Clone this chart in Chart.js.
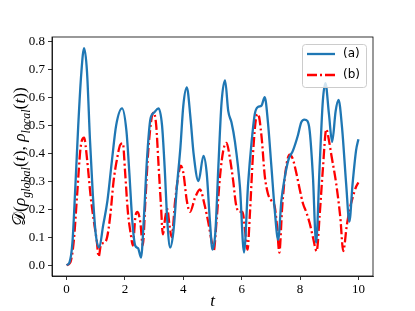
<!DOCTYPE html>
<html>
<head>
<meta charset="utf-8">
<script src="https://cdn.jsdelivr.net/npm/chart.js@4"></script>
<style>
  html, body { margin: 0; padding: 0; background: #fff; }
  #wrap { width: 415px; height: 311px; }
</style>
</head>
<body>
<div id="wrap"><canvas id="chart" width="415" height="311"></canvas></div>
<script>
// Series (a): time points and distance values
const tA = [0, 0.1, 0.2, 0.3, 0.4, 0.5, 0.6, 0.7, 0.8, 0.9, 1.0, 1.12, 1.25, 1.4, 1.55, 1.7, 1.9,
    2.05, 2.15, 2.25, 2.35, 2.45, 2.55, 2.65, 2.75, 2.87, 3.0, 3.15, 3.27, 3.36, 3.45, 3.55, 3.66,
    3.78, 3.9, 4.0, 4.12, 4.25, 4.35, 4.52, 4.69, 4.8, 4.91, 5.0, 5.1, 5.2, 5.31, 5.43, 5.54, 5.65,
    5.77, 5.94, 6.08, 6.22, 6.34, 6.45, 6.56, 6.68, 6.79, 6.9, 7.02, 7.13, 7.25, 7.36, 7.47, 7.6,
    7.76, 7.93, 8.04, 8.15, 8.25, 8.33, 8.44, 8.55, 8.67, 8.78, 8.87, 8.99, 9.1, 9.22, 9.32, 9.44,
    9.58, 9.69, 9.8, 9.92, 10.0];
const valuesA = [0, 0.01, 0.08, 0.28, 0.5, 0.68, 0.775, 0.69, 0.45, 0.25, 0.11, 0.063, 0.14, 0.23,
    0.37, 0.5, 0.56, 0.48, 0.33, 0.16, 0.07, 0.06, 0.027, 0.17, 0.37, 0.52, 0.545, 0.56, 0.5, 0.35,
    0.16, 0.063, 0.12, 0.28, 0.42, 0.57, 0.635, 0.52, 0.4, 0.3, 0.39, 0.33, 0.16, 0.055, 0.12, 0.35,
    0.58, 0.66, 0.55, 0.51, 0.44, 0.28, 0.045, 0.29, 0.44, 0.54, 0.565, 0.57, 0.6, 0.51, 0.35, 0.2,
    0.09, 0.23, 0.31, 0.375, 0.41, 0.465, 0.51, 0.52, 0.515, 0.48, 0.32, 0.08, 0.35, 0.585, 0.65,
    0.54, 0.44, 0.55, 0.59, 0.49, 0.29, 0.155, 0.29, 0.41, 0.45];

// Series (b)
const tB = [0, 0.13, 0.25, 0.36, 0.48, 0.6, 0.7, 0.82, 0.93, 1.03, 1.1, 1.18, 1.3, 1.39, 1.5, 1.61,
    1.73, 1.84, 1.93, 2.0, 2.1, 2.2, 2.27, 2.36, 2.43, 2.53, 2.61, 2.7, 2.8, 2.92, 2.98, 3.07, 3.15,
    3.23, 3.3, 3.38, 3.45, 3.53, 3.6, 3.72, 3.83, 3.91, 4.0, 4.12, 4.23, 4.4, 4.57, 4.74, 4.86, 4.97,
    5.04, 5.14, 5.26, 5.37, 5.48, 5.6, 5.71, 5.8, 5.91, 6.03, 6.12, 6.2, 6.28, 6.39, 6.5, 6.56, 6.68,
    6.79, 6.9, 7.02, 7.13, 7.21, 7.29, 7.39, 7.51, 7.64, 7.75, 7.87, 7.99, 8.1, 8.21, 8.33, 8.44,
    8.57, 8.67, 8.78, 8.9, 9.0, 9.07, 9.24, 9.38, 9.48, 9.6, 9.7, 9.8, 9.92, 10.0];
const valuesB = [0, 0.01, 0.09, 0.25, 0.42, 0.455, 0.38, 0.25, 0.16, 0.09, 0.03, 0.075, 0.08, 0.1,
    0.18, 0.3, 0.38, 0.43, 0.435, 0.34, 0.19, 0.11, 0.07, 0.175, 0.19, 0.15, 0.07, 0.23, 0.41, 0.53,
    0.545, 0.5, 0.36, 0.22, 0.11, 0.17, 0.2, 0.14, 0.1, 0.23, 0.32, 0.355, 0.33, 0.23, 0.19, 0.24,
    0.27, 0.21, 0.15, 0.085, 0.05, 0.16, 0.32, 0.41, 0.437, 0.38, 0.3, 0.22, 0.19, 0.19, 0.12, 0.055,
    0.18, 0.4, 0.53, 0.54, 0.46, 0.32, 0.255, 0.23, 0.21, 0.14, 0.045, 0.21, 0.34, 0.395, 0.38, 0.33,
    0.27, 0.22, 0.19, 0.15, 0.1, 0.05, 0.175, 0.34, 0.485, 0.44, 0.395, 0.29, 0.17, 0.05, 0.14, 0.2,
    0.24, 0.28, 0.295];

const seriesLabels = ['(a)', '(b)'];
const xTicks = [0, 2, 4, 6, 8, 10];
const yTicks = [0.0, 0.1, 0.2, 0.3, 0.4, 0.5, 0.6, 0.7, 0.8];

const serif = '"Liberation Serif", "DejaVu Serif", serif';

// frame, legend and axis titles drawn by hand
const extras = {
    id: 'extras',
    afterDraw(chart) {
        const ctx = chart.ctx;
        const area = chart.chartArea;
        ctx.save();
        ctx.strokeStyle = '#000';
        ctx.lineWidth = 0.8;
        ctx.strokeRect(area.left, area.top, area.right - area.left, area.bottom - area.top);

        // legend box
        const lx = 302, ly = 44, lw = 64, lh = 43;
        ctx.fillStyle = 'rgba(255,255,255,0.8)';
        ctx.strokeStyle = '#cccccc';
        ctx.lineWidth = 1;
        ctx.beginPath();
        ctx.roundRect(lx + 0.5, ly + 0.5, lw, lh, 3);
        ctx.fill();
        ctx.stroke();
        chart.data.datasets.forEach((ds, i) => {
            const yy = ly + 10 + i * 21;
            ctx.strokeStyle = ds.borderColor;
            ctx.lineWidth = ds.borderWidth;
            ctx.setLineDash(ds.borderDash || []);
            ctx.beginPath();
            ctx.moveTo(lx + 5, yy);
            ctx.lineTo(lx + 33, yy);
            ctx.stroke();
            ctx.setLineDash([]);
            ctx.fillStyle = '#000';
            ctx.font = '12px "DejaVu Sans", sans-serif';
            ctx.textBaseline = 'middle';
            ctx.textAlign = 'left';
            ctx.fillText(ds.label, lx + 41, yy);
        });

        // x title
        ctx.fillStyle = '#000';
        ctx.font = 'italic 17px ' + serif;
        ctx.textAlign = 'center';
        ctx.textBaseline = 'alphabetic';
        ctx.fillText('t', (area.left + area.right) / 2, 306);

        // y title with subscripts
        const big = 17.5, small = 12;
        const parts = [
            ['\u{1D49F}(', big + 'px ' + serif, 0],
            ['\u03C1', 'italic ' + big + 'px ' + serif, 0],
            ['global', 'italic ' + small + 'px ' + serif, 4.5],
            ['(', big + 'px ' + serif, 0],
            ['t', 'italic ' + big + 'px ' + serif, 0],
            ['), ', big + 'px ' + serif, 0],
            ['\u03C1', 'italic ' + big + 'px ' + serif, 0],
            ['local', 'italic ' + small + 'px ' + serif, 4.5],
            ['(', big + 'px ' + serif, 0],
            ['t', 'italic ' + big + 'px ' + serif, 0],
            ['))', big + 'px ' + serif, 0]
        ];
        let total = 0;
        parts.forEach(p => { ctx.font = p[1]; total += ctx.measureText(p[0]).width; });
        ctx.translate(25, (area.top + area.bottom) / 2);
        ctx.rotate(-Math.PI / 2);
        ctx.textAlign = 'left';
        let x = -total / 2;
        parts.forEach(p => {
            ctx.font = p[1];
            ctx.fillText(p[0], x, p[2]);
            x += ctx.measureText(p[0]).width;
        });
        ctx.restore();
    }
};

const ctx = document.getElementById('chart').getContext('2d');
new Chart(ctx, {
    type: 'line',
    data: {
        datasets: [
            {
                label: seriesLabels[0],
                data: tA.map((t, i) => ({ x: t, y: valuesA[i] })),
                borderColor: '#1f77b4',
                borderWidth: 2.3,
                pointRadius: 0,
                cubicInterpolationMode: 'monotone',
                fill: false
            },
            {
                label: seriesLabels[1],
                data: tB.map((t, i) => ({ x: t, y: valuesB[i] })),
                borderColor: '#ff0000',
                borderWidth: 2.3,
                borderDash: [10, 3, 2, 3],
                pointRadius: 0,
                cubicInterpolationMode: 'monotone',
                fill: false
            }
        ]
    },
    plugins: [extras],
    options: {
        responsive: false,
        animation: false,
        layout: { padding: { left: 0, right: 42, top: 37, bottom: 0 } },
        plugins: {
            legend: { display: false },
            tooltip: { enabled: false }
        },
        scales: {
            x: {
                type: 'linear',
                min: -0.5,
                max: 10.5,
                afterBuildTicks: scale => { scale.ticks = xTicks.map(v => ({ value: v })); },
                afterFit: scale => { scale.height = 35; },
                grid: { drawOnChartArea: false, tickLength: 4, color: '#000', lineWidth: 0.8 },
                border: { color: '#000', width: 0.8 },
                ticks: { color: '#000', padding: 2, font: { family: serif, size: 13 }, maxRotation: 0 }
            },
            y: {
                min: -0.039,
                max: 0.815,
                afterBuildTicks: scale => { scale.ticks = yTicks.map(v => ({ value: v })); },
                afterFit: scale => { scale.width = 52; },
                grid: { drawOnChartArea: false, tickLength: 4, color: '#000', lineWidth: 0.8 },
                border: { color: '#000', width: 0.8 },
                ticks: {
                    color: '#000', padding: 3, font: { family: serif, size: 13 },
                    callback: v => v.toFixed(1)
                }
            }
        }
    }
});
</script>
</body>
</html>
